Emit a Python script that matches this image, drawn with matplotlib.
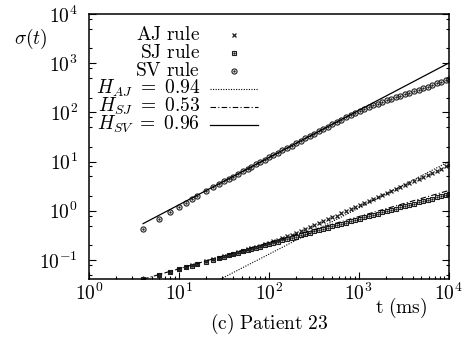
import math
import matplotlib
matplotlib.use("Agg")
import matplotlib.pyplot as plt
from matplotlib.ticker import LogLocator, FuncFormatter, NullFormatter

plt.rcParams['mathtext.fontset'] = 'cm'
plt.rcParams['font.family'] = 'serif'

# sampling times (ms)
t = [4, 6, 8, 10, 12, 14, 16, 20, 24, 28, 32, 36, 40, 46, 52, 58, 64, 72, 80, 90,
     100, 112, 126, 142, 160, 180, 200, 226, 254, 286, 320, 360, 404, 454, 510, 574,
     644, 724, 814, 914, 1026, 1152, 1294, 1454, 1632, 1834, 2058, 2312, 2596, 2916,
     3274, 3678, 4130, 4638, 5208, 5850, 6570, 7378, 8286, 9306, 10000]

sigma_aj = [0.040, 0.049, 0.058, 0.066, 0.072, 0.078, 0.083, 0.094, 0.103, 0.112,
            0.120, 0.128, 0.135, 0.145, 0.155, 0.164, 0.173, 0.185, 0.196, 0.209,
            0.222, 0.238, 0.256, 0.277, 0.300, 0.326, 0.352, 0.386, 0.422, 0.463,
            0.507, 0.556, 0.610, 0.668, 0.73, 0.80, 0.88, 0.97, 1.07, 1.17,
            1.29, 1.42, 1.57, 1.73, 1.90, 2.09, 2.30, 2.53, 2.78, 3.06,
            3.37, 3.70, 4.07, 4.48, 4.93, 5.42, 5.97, 6.56, 7.22, 7.94, 8.45]

sigma_sj = [0.041, 0.050, 0.058, 0.065, 0.071, 0.077, 0.082, 0.092, 0.101, 0.110,
            0.117, 0.125, 0.132, 0.141, 0.150, 0.159, 0.167, 0.178, 0.187, 0.199,
            0.210, 0.222, 0.236, 0.251, 0.267, 0.283, 0.299, 0.318, 0.338, 0.359,
            0.380, 0.403, 0.428, 0.454, 0.482, 0.512, 0.543, 0.576, 0.611, 0.649,
            0.688, 0.730, 0.775, 0.822, 0.872, 0.926, 0.982, 1.04, 1.11, 1.17,
            1.24, 1.32, 1.40, 1.49, 1.58, 1.67, 1.77, 1.88, 2.00, 2.12, 2.20]

sigma_sv = [0.42, 0.68, 0.93, 1.21, 1.47, 1.72, 1.98, 2.48, 2.98, 3.47,
            3.97, 4.46, 4.95, 5.68, 6.40, 7.10, 7.83, 8.80, 9.75, 10.9,
            12.1, 13.5, 15.1, 16.9, 19.0, 21.2, 23.5, 26.4, 29.6, 33.2,
            36.9, 41.3, 46.0, 51.4, 57.2, 63.8, 71.0, 79.0, 88.0, 97.5,
            108, 118, 129, 140, 151, 163, 175, 189, 203, 217,
            233, 249, 270, 287, 310, 335, 361, 388, 417, 457, 480]

# power-law fits: sigma = c * t**H
fit_t = [4, 10000]
h_aj, c_aj = 0.94, 10 ** -2.765
h_sj, c_sj = 0.53, 10 ** -1.71
h_sv, c_sv = 0.96, 10 ** -0.84

fig = plt.figure(figsize=(4.66, 3.38), dpi=100)
ax = fig.add_axes([0.191, 0.1746, 0.7715, 0.784])

mc = '#1e1e1e'
aj_style = dict(linestyle='none', marker='x', ms=3.0, mew=0.9, color=mc)
sj_style = dict(linestyle='none', marker='s', ms=3.3, mew=0.8, mfc='none', mec=mc)
sv_style = dict(linestyle='none', marker='o', ms=3.7, mew=0.8, mfc='none', mec=mc)
dot_style = dict(linestyle='none', marker='.', ms=1.4, color=mc)
aj_line = dict(color='black', lw=0.8, linestyle=(0, (1, 1.3)))
sj_line = dict(color='black', lw=0.8, linestyle=(0, (5, 2, 1, 2)))
sv_line = dict(color='black', lw=0.9)

ax.plot(t, sigma_aj, **aj_style)
ax.plot(t, sigma_sj, **sj_style)
ax.plot(t, sigma_sj, **dot_style)
ax.plot(t, sigma_sv, **sv_style)
ax.plot(t, sigma_sv, **dot_style)

ax.plot(fit_t, [c_aj * x ** h_aj for x in fit_t], **aj_line)
ax.plot(fit_t, [c_sj * x ** h_sj for x in fit_t], **sj_line)
ax.plot(fit_t, [c_sv * x ** h_sv for x in fit_t], **sv_line)

ax.set_xscale('log')
ax.set_yscale('log')
ax.set_xlim(1, 1e4)
ax.set_ylim(0.041, 1e4)


def pow_label(v, pos):
    e = int(round(math.log10(v)))
    if e < 0:
        return r'$\mathrm{10}^{-\mathrm{%d}}$' % (-e)
    return r'$\mathrm{10}^{\mathrm{%d}}$' % e


ax.xaxis.set_major_locator(LogLocator(base=10, numticks=10))
ax.xaxis.set_minor_locator(LogLocator(base=10, subs=range(2, 10), numticks=50))
ax.yaxis.set_major_locator(LogLocator(base=10, numticks=10))
ax.yaxis.set_minor_locator(LogLocator(base=10, subs=[2, 5, 8], numticks=50))
for axis in (ax.xaxis, ax.yaxis):
    axis.set_major_formatter(FuncFormatter(pow_label))
    axis.set_minor_formatter(NullFormatter())

ax.tick_params(axis='both', which='both', direction='in', labelsize=14, width=0.8)
ax.tick_params(axis='both', which='major', length=5)
ax.tick_params(axis='both', which='minor', length=2.5)
ax.tick_params(axis='y', which='both', left=True, right=True, pad=8)
ax.tick_params(axis='x', which='both', top=False, pad=3)
for s in ax.spines.values():
    s.set_linewidth(1.1)

fig.text(31 / 466, 1 - 39 / 338, r'$\sigma(t)$', fontsize=14, ha='center', va='center')
fig.text(401 / 466, 1 - 308 / 338, r'$\mathrm{t\ (ms)}$', fontsize=14, ha='center', va='center')
fig.text(269 / 466, 1 - 324 / 338, r'$\mathrm{(c)\ Patient\ 23}$', fontsize=14,
         ha='center', va='center')

# key, text right-aligned with samples on the right
labels = [r'$\mathrm{AJ\ rule}$', r'$\mathrm{SJ\ rule}$', r'$\mathrm{SV\ rule}$',
          r'$H_{AJ}\ =\ \mathrm{0.94}$', r'$H_{SJ}\ =\ \mathrm{0.53}$',
          r'$H_{SV}\ =\ \mathrm{0.96}$']
rows = [0.921, 0.853, 0.785, 0.717, 0.649, 0.581]
tx, x0, x1, xm = 0.309, 0.337, 0.470, 0.403
for lab, y in zip(labels, rows):
    ax.text(tx, y - 0.019, lab, transform=ax.transAxes, fontsize=14,
            ha='right', va='baseline')
kw = dict(transform=ax.transAxes, clip_on=False)
ax.plot([xm], [rows[0]], **aj_style, **kw)
ax.plot([xm], [rows[1]], **sj_style, **kw)
ax.plot([xm], [rows[1]], **dot_style, **kw)
ax.plot([xm], [rows[2]], **sv_style, **kw)
ax.plot([xm], [rows[2]], **dot_style, **kw)
ax.plot([x0, x1], [rows[3]] * 2, **aj_line, **kw)
ax.plot([x0, x1], [rows[4]] * 2, **sj_line, **kw)
ax.plot([x0, x1], [rows[5]] * 2, **sv_line, **kw)

fig.savefig('out.png', dpi=100)
